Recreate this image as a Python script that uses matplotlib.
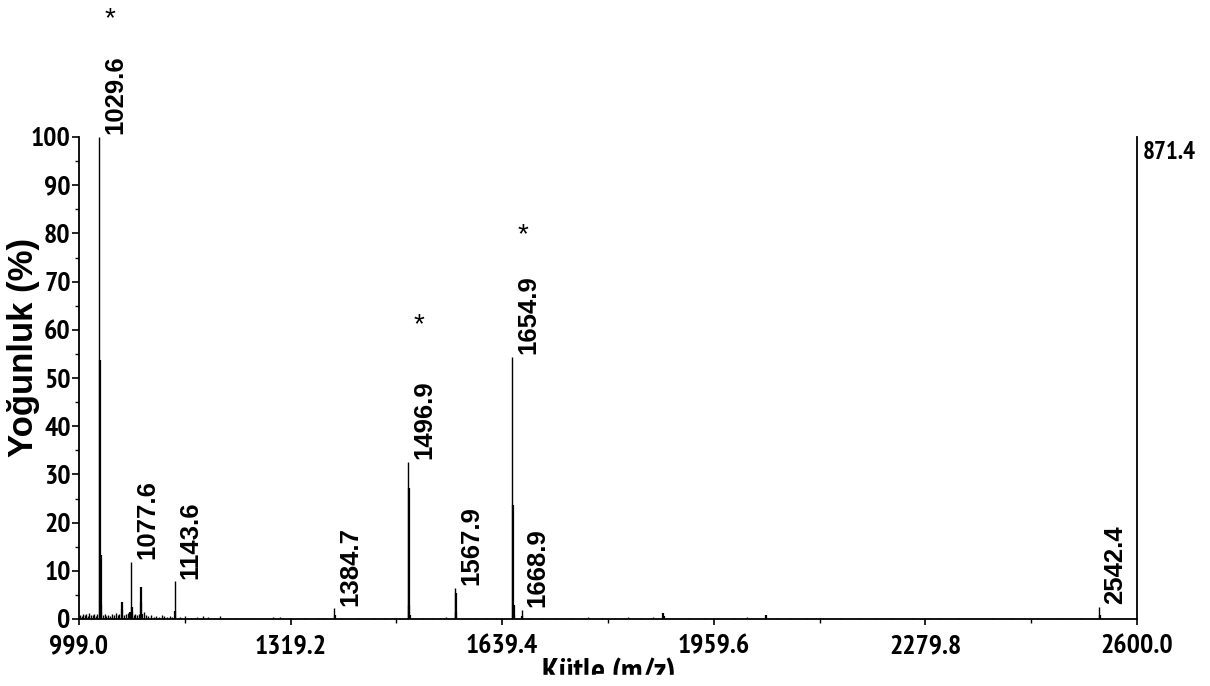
import matplotlib
matplotlib.use("Agg")
import matplotlib.pyplot as plt
from matplotlib import font_manager
from matplotlib.patches import Rectangle

# labelled peaks (m/z, relative intensity %)
peak_mz = [1029.6, 1077.6, 1143.6, 1384.7, 1496.9, 1567.9, 1654.9, 1668.9, 2542.4]
peak_int = [100.0, 11.9, 7.8, 2.2, 32.6, 6.4, 54.4, 1.9, 2.5]
starred = [1029.6, 1496.9, 1654.9]

# isotope / unlabelled peaks
iso_mz = [1030.6, 1031.6, 1032.6, 1076.6, 1078.6, 1079.6, 1063.6, 1064.6,
          1092.3, 1093.3, 1094.3, 1144.6, 1385.7, 1497.9, 1498.9, 1499.9,
          1568.9, 1569.9, 1655.9, 1656.9, 1657.9, 1669.9, 1883.0, 1884.0,
          2038.6, 2543.4]
iso_int = [53.7, 13.3, 3.0, 1.4, 2.4, 1.5, 3.6, 2.0,
           6.6, 3.6, 1.0, 1.6, 0.8, 27.2, 2.9, 0.8,
           5.4, 1.5, 23.7, 2.9, 0.9, 0.7, 1.3, 0.6,
           0.8, 0.8]

# baseline noise
noise_mz = [1000.5, 1002.8, 1005.1, 1007.4, 1009.9, 1012.3, 1014.6, 1017.0, 1019.5,
            1022.1, 1024.4, 1026.8, 1035.2, 1038.0, 1040.6, 1043.1, 1046.3, 1049.0,
            1051.8, 1054.5, 1057.3, 1060.0, 1067.0, 1070.2, 1073.5, 1081.5, 1084.0,
            1087.0, 1089.5, 1097.0, 1100.5, 1104.0, 1108.0, 1112.0, 1116.0, 1120.0,
            1124.5, 1128.0, 1132.0, 1136.0, 1140.0, 1152, 1160, 1168, 1177, 1186,
            1194, 1203, 1212, 1222, 1236, 1250, 1263, 1292, 1303, 1320, 1340, 1361,
            1368, 1395, 1421, 1446, 1460, 1475, 1520, 1533, 1546, 1555, 1585, 1600,
            1615, 1630, 1680, 1700, 1720, 1745, 1769, 1790, 1810, 1830, 1850, 1868,
            1900, 1920, 1945, 1965, 1990, 2010, 2025, 2055, 2075, 2100, 2125, 2150,
            2180, 2205, 2230, 2260, 2285, 2300, 2330, 2380, 2410, 2450, 2480, 2515,
            2570]
noise_int = [0.9, 0.7, 1.1, 0.8, 1.0, 0.7, 1.2, 0.8, 0.9,
             1.0, 0.7, 1.1, 0.8, 1.0, 0.6, 0.9, 0.7, 1.0,
             0.8, 1.2, 0.9, 1.1, 0.9, 1.0, 1.3, 0.9, 1.1,
             0.8, 1.0, 1.5, 0.8, 0.6, 0.9, 0.5, 0.7, 0.5,
             0.8, 0.6, 0.5, 0.6, 0.5, 0.4, 0.6, 0.3, 0.5, 0.7,
             0.4, 0.3, 0.6, 0.3, 0.2, 0.2, 0.3, 0.5, 0.4, 0.2, 0.2, 0.3,
             0.3, 0.2, 0.3, 0.2, 0.3, 0.2, 0.2, 0.3, 0.2, 0.4, 0.3, 0.2,
             0.3, 0.2, 0.3, 0.2, 0.3, 0.2, 0.4, 0.3, 0.3, 0.4, 0.3, 0.4,
             0.3, 0.2, 0.3, 0.2, 0.3, 0.4, 0.3, 0.3, 0.2, 0.3, 0.2, 0.2,
             0.3, 0.2, 0.2, 0.2, 0.3, 0.2, 0.2, 0.2, 0.2, 0.2, 0.2, 0.2,
             0.2]

xtick_labels = ["999.0", "1319.2", "1639.4", "1959.6", "2279.8", "2600.0"]
ytick_values = list(range(0, 101, 10))
max_counts = "871.4"


def _is_bold(entry):
    w = entry.weight
    if isinstance(w, str):
        w = font_manager.weight_dict.get(w, 400)
    return w >= 600


def narrow_family():
    entries = [f for f in font_manager.fontManager.ttflist if "Narrow" in f.name]
    bold_names = sorted({f.name for f in entries if _is_bold(f)})
    for pref in ("Liberation Sans Narrow", "Arial Narrow"):
        if pref in bold_names:
            return pref
    return bold_names[0] if bold_names else None


WIDE = "Liberation Sans"
NARROW = narrow_family()
if NARROW:
    tick_fs, top_fs, xl_fs = 20, 18, 23.5
else:
    NARROW = WIDE
    tick_fs, top_fs, xl_fs = 18, 16, 20

W, H = 1210, 686
fig = plt.figure(figsize=(W / 100, H / 100), dpi=100)
ax = fig.add_axes([79 / W, 1 - 619 / H, (1137 - 79) / W, (619 - 137) / H])

ax.vlines(noise_mz, 0, noise_int, color="black", lw=1.0)
ax.vlines(iso_mz, 0, iso_int, color="black", lw=1.6)
ax.vlines(peak_mz, 0, peak_int, color="black", lw=1.0)

ax.set_xlim(999.0, 2600.0)
ax.set_ylim(0, 100)
ax.spines["top"].set_visible(False)
for s in ("left", "right", "bottom"):
    ax.spines[s].set_linewidth(1.3)

xt = [float(t) for t in xtick_labels]
ax.set_xticks(xt)
ax.set_xticklabels(xtick_labels)
ax.set_xticks([(a + b) / 2 for a, b in zip(xt[:-1], xt[1:])], minor=True)
ax.set_yticks(ytick_values)
ax.set_yticks([v + 5 for v in ytick_values[:-1]], minor=True)

ax.tick_params(axis="both", which="major", direction="out", width=1.2, labelsize=tick_fs)
ax.tick_params(axis="x", which="major", length=4, pad=7)
ax.tick_params(axis="y", which="major", length=5, pad=1)
ax.tick_params(axis="both", which="minor", direction="out", width=1.0, length=3)
for lab in ax.get_xticklabels() + ax.get_yticklabels():
    lab.set_fontfamily(NARROW)
    lab.set_fontweight("bold")

# peak labels
for mz, h in zip(peak_mz, peak_int):
    ax.annotate(f"{mz:.1f}", xy=(mz, h), xytext=(3, 2), textcoords="offset points",
                rotation=90, ha="left", va="bottom", fontsize=18.5,
                fontweight="bold", family=WIDE, annotation_clip=False)

# asterisks above the main signals
star_y = [125.5, 62.2, 80.7]
for mz, y in zip(starred, star_y):
    ax.annotate("*", xy=(mz, y), xytext=(7.5, -4), textcoords="offset points",
                ha="center", va="center", fontsize=20, family=WIDE,
                annotation_clip=False)

fig.text(1143 / W, 1 - 141 / H, max_counts, fontsize=top_fs, fontweight="bold",
         family=NARROW, va="top", ha="left")
fig.text(24 / W, 1 - 347 / H, "Yoğunluk (%)", rotation=90, ha="center",
         va="center", fontsize=25, fontweight="bold", family=WIDE)
fig.text(609 / W, 1 - 657 / H, "Kütle (m/z)", ha="center", va="top",
         fontsize=xl_fs, fontweight="bold", family=NARROW)

# lower strip of the page is blank
fig.add_artist(Rectangle((0, 0), 1, 11 / H, transform=fig.transFigure,
                         color="white", zorder=10))

fig.savefig("out.png", dpi=100)
